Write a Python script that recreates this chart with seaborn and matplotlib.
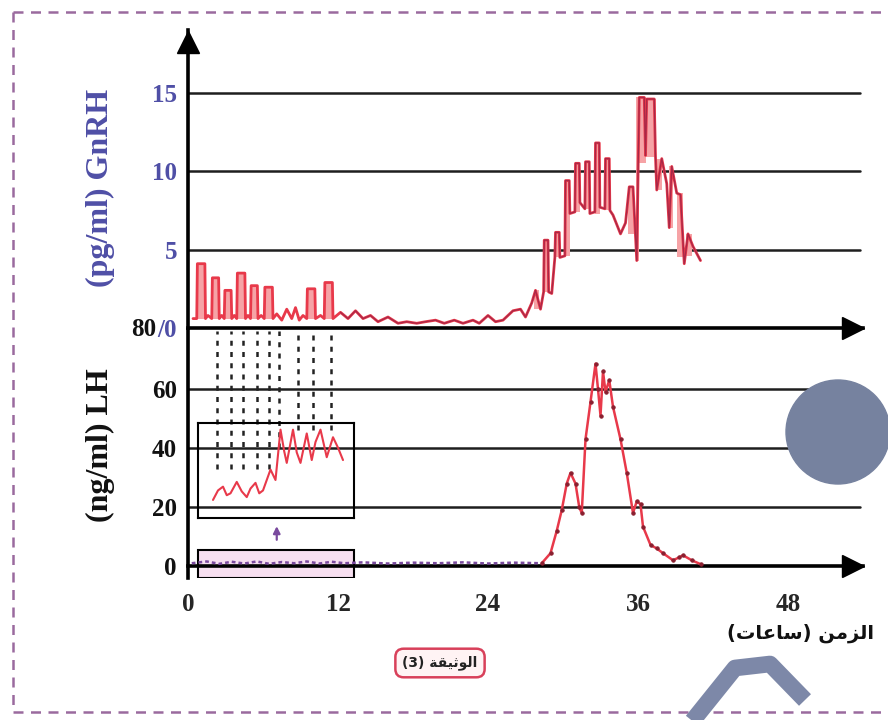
import matplotlib
matplotlib.use("Agg")
import pandas as pd
import matplotlib.pyplot as plt
import matplotlib.patches as mpatches
from matplotlib.lines import Line2D
import seaborn as sns

# ---- data ----
# GnRH (pg/ml) against time (hours), upper panel
gnrh_time = [0.4, 0.7, 0.75, 1.35, 1.4, 1.6, 1.9, 1.95, 2.45, 2.5,
             2.7, 2.9, 2.95, 3.45, 3.5, 3.7, 3.9, 3.95, 4.55, 4.6,
             4.8, 5.0, 5.05, 5.55, 5.6, 5.85, 6.1, 6.15, 6.75, 6.8,
             7.1, 7.5, 7.9, 8.3, 8.6, 8.9, 9.2, 9.5, 9.55, 10.15,
             10.2, 10.6, 10.9, 10.95, 11.55, 11.6, 12.2, 12.8, 13.4, 14.0,
             14.6, 15.2, 16.0, 16.8, 17.5, 18.3, 19.0, 19.8, 20.5, 21.3,
             22.0, 22.8, 23.3, 24.0, 24.6, 25.2, 26.0, 26.6, 27.0, 27.5,
             27.8, 28.2, 28.45, 28.5, 28.8, 28.85, 29.1, 29.35, 29.4, 29.7,
             29.75, 30.15, 30.2, 30.5, 30.55, 30.95, 31.0, 31.3, 31.35, 31.75,
             31.8, 32.1, 32.15, 32.55, 32.6, 32.9, 32.95, 33.35, 33.4, 33.7,
             33.75, 34.0, 34.6, 35.0, 35.3, 35.6, 35.9, 36.1, 36.5, 36.6,
             36.7, 37.3, 37.4, 37.5, 37.9, 38.3, 38.5, 38.7, 39.1, 39.4,
             39.7, 40.0, 40.4, 41.0]
gnrh_value = [0.6, 0.6, 4.1, 4.1, 0.6, 0.8, 0.6, 3.2, 3.2, 0.6,
              0.8, 0.6, 2.4, 2.4, 0.6, 0.8, 0.6, 3.5, 3.5, 0.6,
              0.8, 0.6, 2.7, 2.7, 0.6, 0.8, 0.6, 2.6, 2.6, 0.6,
              0.9, 0.5, 1.2, 0.6, 1.3, 0.5, 0.8, 0.6, 2.5, 2.5,
              0.6, 0.8, 0.6, 2.9, 2.9, 0.6, 1.0, 0.6, 1.1, 0.6,
              0.8, 0.4, 0.7, 0.3, 0.4, 0.3, 0.4, 0.5, 0.3, 0.5,
              0.3, 0.5, 0.3, 0.8, 0.4, 0.5, 1.1, 1.2, 0.7, 1.6,
              2.4, 1.2, 2.3, 5.6, 5.6, 2.3, 2.2, 4.5, 6.1, 6.1,
              4.5, 4.6, 9.4, 9.4, 7.3, 7.4, 10.5, 10.5, 8.0, 7.6,
              10.6, 10.6, 7.3, 7.4, 11.8, 11.8, 7.7, 7.6, 10.8, 10.8,
              7.5, 7.2, 6.0, 6.7, 9.0, 9.0, 4.3, 14.7, 14.7, 11.0,
              14.6, 14.6, 10.9, 8.8, 10.8, 9.2, 6.4, 10.3, 8.6, 8.5,
              4.1, 6.0, 5.2, 4.3]

# pink filled pulses: left edge, right edge, top, floor
pulse_left = [0.75, 1.95, 2.95, 3.95, 5.05, 6.15, 9.55, 10.95,
              27.7, 28.45, 29.35, 30.15, 30.95, 31.75, 32.55, 33.35,
              35.2, 35.85, 36.1, 36.6, 37.5, 38.5, 39.1, 39.8]
pulse_right = [1.35, 2.45, 3.45, 4.55, 5.55, 6.75, 10.15, 11.55,
               28.1, 28.85, 29.75, 30.55, 31.35, 32.15, 32.95, 33.75,
               35.7, 36.1, 36.6, 37.4, 37.95, 38.8, 39.6, 40.3]
pulse_top = [4.1, 3.2, 2.4, 3.5, 2.7, 2.6, 2.5, 2.9,
             2.4, 5.6, 6.1, 9.4, 10.5, 10.6, 11.8, 10.8,
             9.0, 14.7, 14.7, 14.6, 10.8, 10.3, 8.6, 6.0]
pulse_floor = [0.6, 0.6, 0.6, 0.6, 0.6, 0.6, 0.6, 0.6,
               1.2, 2.3, 4.5, 4.6, 7.4, 7.6, 7.3, 7.5,
               6.0, 4.3, 10.5, 10.9, 8.8, 6.4, 4.5, 4.6]

# LH (ng/ml), lower panel: flat part (purple) and surge (red)
lh_base_time = [0.3, 1.5, 2.5, 3.5, 4.5, 5.5, 6.5, 7.5, 8.5, 9.5, 10.5,
                11.5, 12.5, 14, 16, 18, 20, 22, 24, 26, 28.3]
lh_base_value = [1.0, 1.6, 0.8, 1.5, 0.9, 1.6, 0.8, 1.4, 1.0, 1.6, 0.9,
                 1.5, 1.0, 1.3, 0.9, 1.2, 1.0, 1.3, 0.9, 1.2, 1.0]
lh_time = [28.3, 29.0, 29.5, 29.9, 30.3, 30.6, 31.0, 31.3, 31.5, 31.8,
           32.2, 32.6, 32.8, 33.0, 33.2, 33.4, 33.7, 34.0, 34.6, 35.1,
           35.6, 35.9, 36.2, 36.4, 37.0, 37.5, 38.0, 38.8, 39.3, 39.6,
           40.3, 41.0]
lh_value = [1.0, 4.4, 12, 19, 28, 31.6, 28, 20, 18, 43,
            55.6, 68.6, 60, 51, 66, 59, 63, 54, 43, 31.6,
            18, 22, 21, 13.4, 7.2, 6.0, 4.4, 2.0, 3.0, 3.7,
            2.0, 0.7]

# enlarged LH trace of the first 12 h (inset, arbitrary enlarged scale 0-10)
inset_time = [2.0, 2.4, 2.8, 3.1, 3.4, 3.9, 4.3, 4.7, 5.0, 5.4, 5.7, 6.0,
              6.6, 7.0, 7.4, 7.7, 7.9, 8.4, 8.7, 9.0, 9.5, 9.9, 10.2,
              10.6, 11.1, 11.6, 12.0, 12.4]
inset_level = [1.9, 2.9, 3.3, 2.4, 2.6, 3.8, 2.8, 2.2, 3.1, 3.7, 2.6, 2.9,
               5.1, 4.0, 9.3, 7.0, 5.8, 9.3, 6.9, 5.8, 8.9, 6.1, 8.0,
               9.3, 6.4, 8.5, 7.4, 6.1]

# dashed markers of the GnRH pulses carried down to the LH panel
mark_time = [2.3, 3.4, 4.4, 5.5, 6.5, 7.3, 8.8, 10.0, 11.4]
mark_low = [33, 33, 33, 33, 33, 40, 46, 46, 46]

gnrh_ticks = [0, 5, 10, 15]
gnrh_ticklabels = ["/0", "5", "10", "15"]
lh_ticks = [0, 20, 40, 60]
time_ticks = [0, 12, 24, 36, 48]

# Arabic text in visual order (presentation forms, matplotlib has no shaping)
time_title = "(\ufe95\ufe8e\ufecb\ufe8e\ufeb3) \ufee6\ufee3\ufeb0\ufedf\ufe8d"   # الزمن (ساعات)
doc_title = "(3) \ufe94\ufed8\ufef4\ufe9b\ufeee\ufedf\ufe8d"                  # الوثيقة (3)

gnrh_df = pd.DataFrame({"time": gnrh_time, "gnrh": gnrh_value})
lh_df = pd.DataFrame({"time": lh_time, "lh": lh_value})
lh_base_df = pd.DataFrame({"time": lh_base_time, "lh": lh_base_value})
inset_df = pd.DataFrame({"time": inset_time, "lh": inset_level})

# ---- style ----
sns.set_theme(style="white")
plt.rcParams["font.family"] = ["Liberation Serif", "DejaVu Serif"]
plt.rcParams["font.weight"] = "bold"

BLUE = "#4f4fa6"
RED = "#e8394a"
PINK = "#f6a3a6"
PURPLE = "#7a4a9e"
GRID = "#1e1e1e"
W, H = 888, 720


def fx(px):
    return px / W


def fy(py):
    return 1 - py / H


fig = plt.figure(figsize=(8.88, 7.2), dpi=100)

ax_g = fig.add_axes([fx(188), fy(328), fx(863) - fx(188), fy(30) - fy(328)])
ax_l = fig.add_axes([fx(188), fy(578), fx(863) - fx(188), fy(330) - fy(578)])
for ax in (ax_g, ax_l):
    ax.set_facecolor("none")
    ax.set_xlim(0, 54)
    for s in ("top", "right"):
        ax.spines[s].set_visible(False)
    ax.spines["left"].set_linewidth(2.6)
    ax.spines["bottom"].set_linewidth(2.6)
    ax.spines["left"].set_color("black")
    ax.spines["bottom"].set_color("black")

# ---- upper panel: GnRH ----
ax_g.set_ylim(0, 19)
for v in gnrh_ticks[1:]:
    ax_g.axhline(v, color=GRID, lw=1.8, xmax=0.995, zorder=1)
ax_g.bar(pulse_left, [t - f for t, f in zip(pulse_top, pulse_floor)],
         width=[r - l for l, r in zip(pulse_left, pulse_right)],
         bottom=pulse_floor, align="edge", color=PINK, lw=0, zorder=2)
sns.lineplot(data=gnrh_df, x="time", y="gnrh", ax=ax_g, sort=False,
             estimator=None, color=RED, lw=2.0, zorder=3)
sns.lineplot(data=gnrh_df[gnrh_df["time"] > 11.6], x="time", y="gnrh", ax=ax_g,
             sort=False, estimator=None, color="#a82848", lw=0.9, zorder=3)
ax_g.set_yticks(gnrh_ticks)
ax_g.set_yticklabels(gnrh_ticklabels, color=BLUE, fontsize=18, fontweight="bold")
ax_g.set_xticks(time_ticks[1:])
ax_g.set_xticklabels([])
ax_g.tick_params(axis="x", direction="inout", length=10, width=2, color="black")
ax_g.tick_params(axis="y", direction="out", length=5, width=2, pad=3, color="black")
ax_g.set_xlabel("")
ax_g.set_ylabel("")
ax_g.plot(0.985, 0, ">", color="black", ms=16, transform=ax_g.transAxes, clip_on=False)
ax_g.plot(0, 0.96, "^", color="black", ms=16, transform=ax_g.transAxes, clip_on=False)

# ---- lower panel: LH ----
ax_l.set_ylim(-4, 80)
ax_l.spines["bottom"].set_position(("data", 0))
for v in lh_ticks[1:]:
    ax_l.axhline(v, color=GRID, lw=1.8, xmax=0.995, zorder=1)
for t, low in zip(mark_time, mark_low):
    ax_l.plot([t, t], [low, 79.5], color="#222222", lw=1.8, ls=(0, (2, 2.5)), zorder=2)
ax_l.add_patch(mpatches.Rectangle((0.8, -4.1), 12.48, 9.6, facecolor="#f7dff0",
                                  edgecolor="black", lw=1.5, zorder=2))
sns.lineplot(data=lh_base_df, x="time", y="lh", ax=ax_l, sort=False, estimator=None,
             color=PURPLE, lw=1.8, ls=(0, (1.5, 1.2)), zorder=3)
sns.lineplot(data=lh_df, x="time", y="lh", ax=ax_l, sort=False, estimator=None,
             color=RED, lw=1.8, marker="o", ms=2.4, mfc="#8a2030", mec="#8a2030", zorder=3)
ax_l.annotate("", xy=(7.1, 14.5), xytext=(7.1, 8.0),
              arrowprops=dict(arrowstyle="-|>", color=PURPLE, lw=1.6, mutation_scale=10))
ax_l.set_yticks(lh_ticks)
ax_l.set_yticklabels([str(v) for v in lh_ticks], color="#111111", fontsize=18,
                     fontweight="bold")
ax_l.set_xticks(time_ticks)
ax_l.set_xticklabels([str(v) for v in time_ticks], fontsize=18, fontweight="bold")
ax_l.tick_params(axis="x", direction="inout", length=10, width=2, pad=14, color="black")
ax_l.tick_params(axis="y", direction="out", length=5, width=2, pad=3, color="black")
ax_l.set_xlabel("")
ax_l.set_ylabel("")
ax_l.annotate("80", xy=(0, 80), xytext=(-23, 0), textcoords="offset points",
              ha="right", va="center", fontsize=18, fontweight="bold", color="#111111")
ax_l.plot(0.985, 4 / 84, ">", color="black", ms=16, transform=ax_l.transAxes, clip_on=False)

# ---- inset: enlarged first hours ----
ax_i = fig.add_axes([fx(198), fy(518), fx(354) - fx(198), fy(423) - fy(518)])
ax_i.set_facecolor("none")
ax_i.set_xlim(0.8, 13.28)
ax_i.set_ylim(0, 10)
sns.lineplot(data=inset_df, x="time", y="lh", ax=ax_i, sort=False, estimator=None,
             color=RED, lw=1.5)
ax_i.set_xticks([])
ax_i.set_yticks([])
ax_i.set_xlabel("")
ax_i.set_ylabel("")
for s in ax_i.spines.values():
    s.set_visible(True)
    s.set_color("black")
    s.set_linewidth(1.5)

# ---- texts ----
fig.text(fx(100), fy(188), "(pg/ml) GnRH", rotation=90, ha="center", va="center",
         color=BLUE, fontsize=23, fontweight="bold")
fig.text(fx(100), fy(445), "(ng/ml) LH", rotation=90, ha="center", va="center",
         color="#111111", fontsize=23, fontweight="bold")
fig.text(fx(800), fy(633), time_title, ha="center", va="center", fontsize=14,
         fontweight="bold", family=["DejaVu Sans"], color="#111111")
fig.text(fx(440), fy(663), doc_title, ha="center", va="center", fontsize=10,
         fontweight="bold", family=["DejaVu Sans"], color="#222222",
         bbox=dict(boxstyle="round,pad=0.5,rounding_size=0.6", fc="#fff3f4",
                   ec="#d8405a", lw=1.8))

# ---- page decoration: dashed frame and watermark shapes ----
frame = dict(color="#9a6a9e", lw=1.8, ls=(0, (4, 3)), transform=fig.transFigure)
fig.add_artist(Line2D([fx(13), fx(888)], [fy(12), fy(12)], **frame))
fig.add_artist(Line2D([fx(13), fx(888)], [fy(712), fy(712)], **frame))
fig.add_artist(Line2D([fx(13), fx(13)], [fy(12), fy(712)], **frame))
fig.add_artist(mpatches.Ellipse((fx(838), fy(432)), 104 / W, 104 / H,
                                transform=fig.transFigure, color="#76829f", zorder=5))
fig.add_artist(Line2D([fx(690), fx(735), fx(770), fx(805)],
                      [fy(724), fy(668), fy(664), fy(700)],
                      color="#7d88a8", lw=12, solid_joinstyle="round",
                      solid_capstyle="butt", transform=fig.transFigure, zorder=5))

fig.savefig("out.png", dpi=100)
